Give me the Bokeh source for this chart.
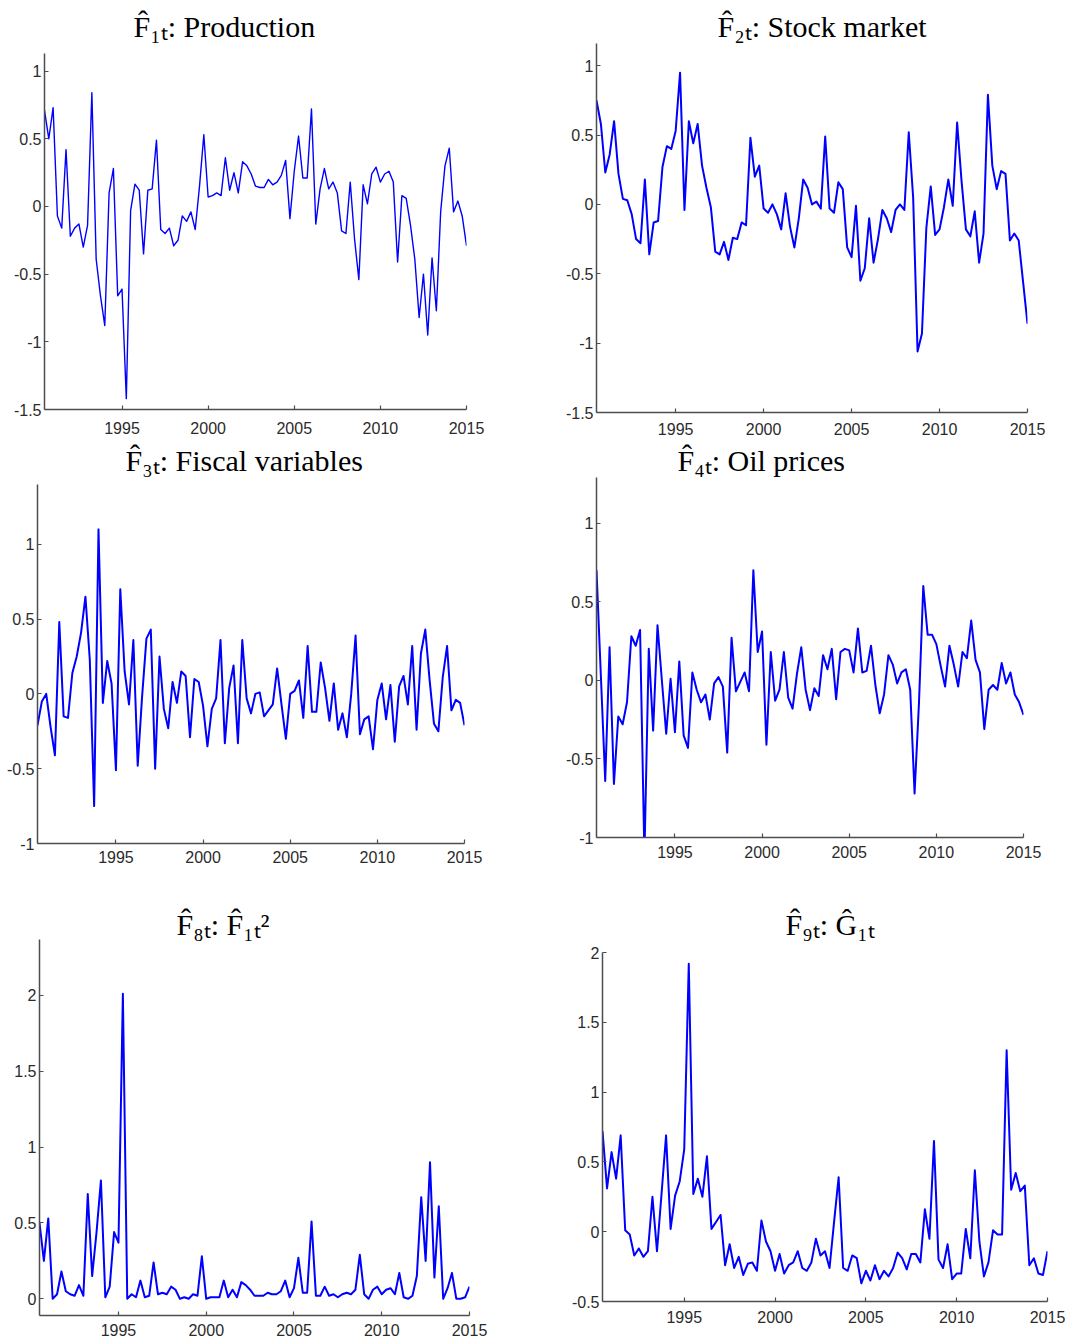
from bokeh.plotting import figure
from bokeh.layouts import column, row
from bokeh.models import FixedTicker, CustomJSTickFormatter, Range1d, ColumnDataSource, Label
from bokeh.embed import file_html
from bokeh.resources import INLINE

# ---------------- data (quarterly, first observation 1990.5) ----------------
START_YEAR = 1990.5
QUARTER = 0.25

f1_production = [0.71, 0.50, 0.73, -0.07, -0.16, 0.42, -0.22, -0.16, -0.13, -0.30,
                 -0.14, 0.84, -0.39, -0.66, -0.88, 0.10, 0.28, -0.66, -0.61, -1.42,
                 -0.03, 0.165, 0.12, -0.35, 0.12, 0.13, 0.49, -0.17, -0.20, -0.16,
                 -0.29, -0.25, -0.07, -0.11, -0.04, -0.17, 0.15, 0.53, 0.07, 0.08,
                 0.10, 0.08, 0.36, 0.12, 0.25, 0.10, 0.33, 0.30, 0.24, 0.15,
                 0.14, 0.14, 0.20, 0.16, 0.18, 0.23, 0.34, -0.09, 0.26, 0.52,
                 0.21, 0.21, 0.72, -0.13, 0.13, 0.28, 0.13, 0.18, 0.10, -0.18,
                 -0.20, 0.18, -0.24, -0.54, 0.16, 0.02, 0.24, 0.29, 0.18, 0.24,
                 0.26, 0.18, -0.41, 0.08, 0.06, -0.14, -0.39, -0.82, -0.50, -0.95,
                 -0.38, -0.77, -0.04, 0.30, 0.43, -0.04, 0.04, -0.07, -0.29]

f2_stock_market = [0.75, 0.58, 0.23, 0.36, 0.60, 0.22, 0.04, 0.03, -0.07, -0.25,
                   -0.28, 0.18, -0.36, -0.13, -0.12, 0.27, 0.42, 0.40, 0.53, 0.95,
                   -0.04, 0.60, 0.44, 0.58, 0.28, 0.12, -0.02, -0.34, -0.36, -0.27,
                   -0.40, -0.24, -0.25, -0.13, -0.15, 0.48, 0.20, 0.28, -0.03, -0.06,
                   0.00, -0.07, -0.18, 0.08, -0.16, -0.31, -0.10, 0.18, 0.12, 0.00,
                   0.02, -0.03, 0.49, -0.03, -0.06, 0.16, 0.11, -0.31, -0.38, -0.01,
                   -0.55, -0.46, -0.10, -0.42, -0.25, -0.04, -0.10, -0.20, -0.04, 0.00,
                   -0.04, 0.52, 0.05, -1.06, -0.93, -0.17, 0.13, -0.22, -0.18, -0.02,
                   0.18, -0.01, 0.59, 0.17, -0.18, -0.23, -0.05, -0.42, -0.21, 0.79,
                   0.28, 0.11, 0.24, 0.22, -0.26, -0.21, -0.26, -0.56, -0.86]

f3_fiscal = [-0.21, -0.05, 0.00, -0.22, -0.41, 0.48, -0.15, -0.16, 0.14, 0.25,
             0.41, 0.65, 0.23, -0.75, 1.10, -0.06, 0.22, 0.07, -0.51, 0.70,
             0.15, -0.07, 0.36, -0.48, -0.02, 0.37, 0.43, -0.50, 0.25, -0.10,
             -0.23, 0.08, -0.06, 0.15, 0.12, -0.29, 0.10, 0.08, -0.08, -0.35,
             -0.10, -0.03, 0.36, -0.33, 0.04, 0.19, -0.33, 0.36, -0.03, -0.13,
             0.00, 0.01, -0.15, -0.11, -0.07, 0.17, -0.07, -0.30, 0.00, 0.02,
             0.09, -0.16, 0.32, -0.12, -0.12, 0.21, 0.04, -0.18, 0.07, -0.24,
             -0.13, -0.29, 0.00, 0.39, -0.27, -0.17, -0.15, -0.37, -0.04, 0.07,
             -0.17, 0.06, -0.32, 0.05, 0.12, -0.07, 0.32, -0.24, 0.27, 0.43,
             0.09, -0.20, -0.25, 0.11, 0.32, -0.11, -0.04, -0.06, -0.21]

f4_oil_prices = [0.70, 0.03, -0.64, 0.21, -0.66, -0.23, -0.28, -0.14, 0.28, 0.22,
                 0.32, -1.12, 0.20, -0.32, 0.35, 0.00, -0.34, 0.01, -0.33, 0.12,
                 -0.35, -0.43, 0.05, -0.06, -0.14, -0.09, -0.25, -0.02, 0.02, -0.04,
                 -0.46, 0.27, -0.07, -0.01, 0.05, -0.07, 0.70, 0.18, 0.31, -0.41,
                 0.18, -0.13, -0.06, 0.18, -0.11, -0.18, 0.04, 0.21, -0.06, -0.19,
                 -0.05, -0.10, 0.16, 0.07, 0.20, -0.12, 0.18, 0.20, 0.19, 0.05,
                 0.33, 0.05, 0.06, 0.22, -0.03, -0.21, -0.09, 0.16, 0.10, -0.02,
                 0.05, 0.07, -0.06, -0.72, -0.15, 0.60, 0.29, 0.29, 0.23, 0.09,
                 -0.04, 0.22, 0.10, -0.04, 0.18, 0.14, 0.38, 0.13, 0.05, -0.31,
                 -0.06, -0.03, -0.06, 0.11, -0.02, 0.05, -0.09, -0.14, -0.22]

f8_production_sq = [0.50, 0.25, 0.53, 0.00, 0.03, 0.18, 0.05, 0.03, 0.02, 0.09,
                    0.02, 0.69, 0.15, 0.44, 0.78, 0.01, 0.08, 0.44, 0.37, 2.01,
                    0.00, 0.03, 0.01, 0.12, 0.01, 0.02, 0.24, 0.03, 0.04, 0.03,
                    0.08, 0.06, 0.00, 0.01, 0.00, 0.03, 0.02, 0.28, 0.00, 0.01,
                    0.01, 0.01, 0.12, 0.01, 0.06, 0.01, 0.11, 0.09, 0.06, 0.02,
                    0.02, 0.02, 0.04, 0.03, 0.03, 0.05, 0.12, 0.01, 0.07, 0.27,
                    0.04, 0.04, 0.51, 0.02, 0.02, 0.08, 0.02, 0.03, 0.01, 0.03,
                    0.04, 0.03, 0.06, 0.29, 0.03, 0.00, 0.06, 0.08, 0.03, 0.06,
                    0.07, 0.03, 0.17, 0.01, 0.00, 0.02, 0.15, 0.67, 0.25, 0.90,
                    0.14, 0.61, 0.00, 0.07, 0.17, 0.00, 0.00, 0.01, 0.08]

f9_g1 = [0.72, 0.31, 0.57, 0.38, 0.69, 0.01, -0.02, -0.17, -0.12, -0.18,
         -0.14, 0.25, -0.14, 0.27, 0.69, 0.02, 0.26, 0.36, 0.59, 1.92,
         0.27, 0.38, 0.25, 0.54, 0.02, 0.07, 0.12, -0.24, -0.09, -0.26,
         -0.18, -0.31, -0.23, -0.22, -0.28, 0.08, -0.07, -0.14, -0.28, -0.16,
         -0.30, -0.24, -0.22, -0.14, -0.26, -0.28, -0.22, -0.05, -0.17, -0.14,
         -0.26, 0.07, 0.39, -0.26, -0.28, -0.17, -0.19, -0.37, -0.28, -0.35,
         -0.24, -0.34, -0.28, -0.32, -0.26, -0.15, -0.19, -0.27, -0.16, -0.16,
         -0.22, 0.16, -0.05, 0.65, -0.20, -0.26, -0.09, -0.34, -0.30, -0.30,
         0.02, -0.19, 0.44, -0.07, -0.32, -0.22, 0.01, -0.02, -0.02, 1.30,
         0.30, 0.42, 0.29, 0.33, -0.24, -0.19, -0.30, -0.31, -0.14]

titles = ["F\u0302\u2081\u209c: Production",
          "F\u0302\u2082\u209c: Stock market",
          "F\u0302\u2083\u209c: Fiscal variables",
          "F\u0302\u2084\u209c: Oil prices",
          "F\u0302\u2088\u209c: F\u0302\u2081\u209c\u00b2",
          "F\u0302\u2089\u209c: \u011c\u2081\u209c"]

series = [f1_production, f2_stock_market, f3_fiscal, f4_oil_prices,
          f8_production_sq, f9_g1]

y_limits = [(-1.5, 1.13), (-1.5, 1.16), (-1.0, 1.40), (-1.0, 1.29),
            (-0.11, 2.37), (-0.5, 2.0)]
y_ticks = [[-1.5, -1, -0.5, 0, 0.5, 1], [-1.5, -1, -0.5, 0, 0.5, 1],
           [-1, -0.5, 0, 0.5, 1], [-1, -0.5, 0, 0.5, 1],
           [0, 0.5, 1, 1.5, 2], [-0.5, 0, 0.5, 1, 1.5, 2]]
x_ticks = [1995, 2000, 2005, 2010, 2015]
x_limits = (1990.5, 2015.0)

# ---------------- layout / style (pixels) ----------------
# (fig_w, fig_h, border_left, border_right, axis_top_from_fig_top, axis_height,
#  title_dx, title_baseline_above_axis_top, x_label_standoff, line_width)
panel_style = [
    (534, 440, 44, 68, 53, 356, 89, 27, 12, 1.4),
    (532, 440, 62, 39, 43, 369, 121, 17, 10, 2.0),
    (534, 430, 37, 70, 44, 359, 88, 24, 7, 2.0),
    (532, 430, 62, 43, 37, 360, 81, 17, 8, 2.0),
    (534, 468, 39, 65, 69, 378, 137, 15, 8, 2.0),
    (532, 468, 68, 19, 82, 349, 183, 28, 9, 2.0),
]
TOP_PAD = 2

fmt = CustomJSTickFormatter(code="return tick.toString();")

figs = []
for i, vals in enumerate(series):
    fw, fh, bl, br, ax_top, ax_h, tdx, tdy, xstand, lw = panel_style[i]
    y_lo, y_hi = y_limits[i]
    ppu = ax_h / (y_hi - y_lo)                 # pixels per data unit
    bb = fh - ax_top - ax_h                     # bottom border
    y_end = y_hi + (ax_top - TOP_PAD) / ppu     # frame extends up to hold the title
    dates = [START_YEAR + QUARTER * k for k in range(len(vals))]
    src = ColumnDataSource(dict(t=dates, v=vals))
    p = figure(width=fw, height=fh, output_backend="svg", toolbar_location=None,
               x_range=Range1d(*x_limits), y_range=Range1d(y_lo, y_end),
               min_border_left=bl, min_border_right=br,
               min_border_top=TOP_PAD, min_border_bottom=bb)
    p.line("t", "v", source=src, line_color="#0000FF", line_width=lw,
           line_join="round")
    p.add_layout(Label(x=x_limits[0], y=y_hi + tdy / ppu, x_offset=tdx,
                       text=titles[i], text_font="Liberation Serif",
                       text_font_size="30px", text_color="#000000",
                       text_align="left", text_baseline="alphabetic"))
    p.grid.visible = False
    p.outline_line_color = None
    p.background_fill_color = "white"
    p.border_fill_color = "white"
    for ax in (p.xaxis[0], p.yaxis[0]):
        ax.axis_line_color = "#4d4d4d"
        ax.axis_line_width = 1.5
        ax.major_tick_line_color = "#4d4d4d"
        ax.major_tick_line_width = 1.2
        ax.major_tick_in = 4
        ax.major_tick_out = 0
        ax.minor_tick_line_color = None
        ax.major_label_text_font = "Liberation Sans"
        ax.major_label_text_font_size = "16px"
        ax.major_label_text_color = "#2b2b2b"
        ax.formatter = fmt
    p.yaxis[0].bounds = (y_lo, y_hi)
    p.xaxis[0].ticker = FixedTicker(ticks=x_ticks)
    p.yaxis[0].ticker = FixedTicker(ticks=y_ticks[i])
    p.xaxis[0].major_label_standoff = xstand
    p.yaxis[0].major_label_standoff = 3
    figs.append(p)

layout = column(row(column(figs[0]), column(figs[1])),
                row(column(figs[2]), column(figs[3])),
                row(column(figs[4]), column(figs[5])))

open("out.html", "w").write(file_html(layout, INLINE))
